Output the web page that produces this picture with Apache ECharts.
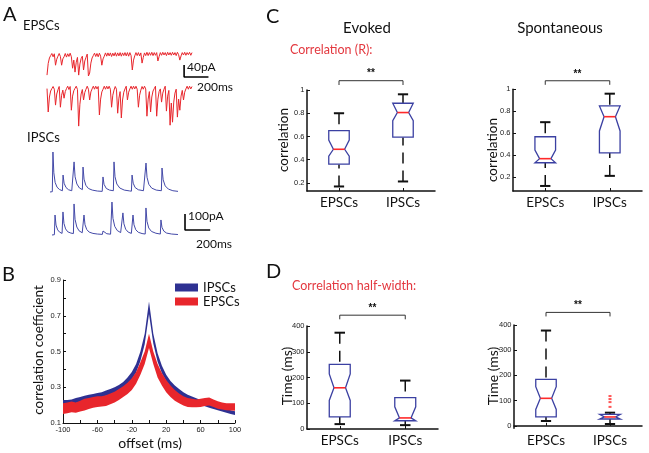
<!DOCTYPE html>
<html><head><meta charset="utf-8">
<script src="https://cdn.jsdelivr.net/npm/echarts@6/dist/echarts.min.js"></script>
<style>html,body{margin:0;padding:0;background:#fff}#c{width:649px;height:453px}</style>
</head><body><div id="c"></div>
<script>
// ---------- Panel A: example traces ----------
const EPSC_DT = 10; // ms per sample
const epscTrace1 = [-67,-28,-10,-2,5,-6,4,-34,-14,-4,5,-5,-34,-13,-6,5,-7,4,-5,6,-6,-44,-17,-57,-24,-8,-67,-30,-12,-4,-50,-20,-8,3,-70,-60,-27,-10,-2,6,-5,5,-6,6,-4,-34,-13,-4,7,-4,7,-3,7,-5,6,-3,8,-4,7,-3,8,-4,7,-2,8,-3,8,-4,8,-2,-50,-17,-3,8,-2,8,-3,7,-27,-8,7,-2,9,-2,8,-1,9,-2,8,-1,8,-20,-5,8,-1,9,0,8,-2,9,0,8,-1,9,0,8,-2,9,1,-17,-3,8,0,9,-1,8,1,9,-1,8];
const epscTrace2 = [-2,-80,-30,-10,-2,5,-4,-57,-20,-6,5,-64,-24,-7,-34,-12,-2,6,-5,5,-74,-27,-9,-1,6,-5,-127,-54,-20,-5,-40,-15,-4,6,-4,-40,-13,-3,6,-4,6,-3,5,-90,-37,-13,-4,6,-4,6,-3,6,-4,-64,-24,-7,5,-4,-84,-34,-12,-100,-40,-14,-3,6,-40,-14,-3,6,-4,6,-3,6,-4,-64,-24,-7,5,-4,6,-3,-94,-37,-12,-80,-30,-10,-2,6,-94,-37,-12,-3,-47,-17,-4,6,-77,-27,-8,-124,-50,-114,-47,-17,-4,-97,-37,-74,-27,-8,-40,-14,-3,6,-4,6,-3,5];
// [time ms, current pA]
const ipscTrace1 = [[0,0],[18,2],[23,250],[30,120],[40,60],[55,30],[75,15],[97,8],[102,106],[110,55],[125,28],[145,14],[170,8],[183,6],[188,188],[196,95],[210,50],[230,25],[253,15],[258,156],[266,80],[280,42],[300,22],[330,12],[370,6],[408,4],[414,94],[422,48],[440,22],[465,12],[495,8],[500,188],[508,95],[522,50],[545,25],[580,12],[620,7],[636,5],[641,106],[650,55],[665,28],[690,14],[730,8],[745,6],[750,181],[758,92],[772,48],[795,24],[830,12],[870,8],[875,150],[884,76],[900,38],[925,18],[960,8],[1000,4]];
const ipscTrace2 = [[0,0],[19,2],[24,125],[32,62],[45,32],[60,18],[80,10],[87,144],[95,72],[108,38],[125,20],[150,12],[170,9],[175,194],[183,98],[197,50],[215,26],[240,14],[249,10],[254,125],[262,64],[276,34],[295,18],[325,10],[360,6],[400,4],[405,25],[415,14],[435,8],[465,5],[471,4],[476,206],[484,104],[498,54],[518,28],[545,15],[558,11],[563,138],[571,70],[585,36],[605,18],[630,10],[638,8],[643,125],[651,64],[665,33],[685,17],[715,9],[740,6],[746,169],[754,86],[768,44],[790,22],[825,11],[860,6],[865,94],[873,48],[888,24],[910,12],[950,6],[1000,3]];
const epscScaleBar = {pA: 40, ms: 200};
const ipscScaleBar = {pA: 100, ms: 200};

// ---------- Panel B: cross-correlation bands ----------
const offsets = [-100,-95,-90,-85,-80,-75,-70,-65,-60,-55,-50,-45,-40,-35,-30,-25,-20,-15,-10,-5,0,5,10,15,20,25,30,35,40,45,50,55,60,65,70,75,80,85,90,95,100];
const ipscLow  = [.202,.203,.206,.212,.217,.222,.228,.234,.24,.244,.252,.26,.27,.282,.296,.315,.343,.383,.447,.54,.71,.545,.443,.378,.334,.3,.275,.257,.243,.231,.221,.211,.202,.194,.186,.179,.172,.165,.158,.151,.145];
const ipscHigh = [.228,.228,.232,.24,.245,.252,.258,.262,.268,.272,.282,.29,.30,.312,.33,.355,.385,.43,.50,.60,.78,.60,.49,.42,.37,.335,.31,.29,.272,.258,.248,.238,.228,.22,.212,.205,.198,.19,.182,.172,.166];
const epscLow  = [.15,.155,.16,.158,.165,.17,.178,.185,.19,.192,.195,.205,.215,.228,.245,.262,.285,.32,.37,.43,.52,.43,.355,.31,.272,.245,.225,.21,.198,.19,.188,.188,.19,.195,.198,.19,.18,.175,.172,.17,.168];
const epscHigh = [.21,.215,.22,.215,.225,.235,.24,.245,.25,.25,.255,.265,.275,.29,.305,.325,.35,.385,.44,.50,.60,.50,.43,.38,.34,.31,.285,.265,.25,.24,.235,.232,.235,.24,.242,.232,.222,.215,.21,.21,.21];

// ---------- Panels C, D: notched box plots ----------
const groups = ['EPSCs','IPSCs'];
// each: [whiskerLow, q1, notchLow, median, notchHigh, q3, whiskerHigh]
const evokedCorr = [[0.17,0.362,0.43,0.49,0.57,0.65,0.80],[0.213,0.594,0.737,0.806,0.886,0.886,0.963]];
const spontCorr  = [[0.118,0.33,0.33,0.367,0.446,0.567,0.70],[0.21,0.42,0.62,0.75,0.848,0.848,0.96]];
const evokedHalfWidth = [[19,47,111,160,214,251,374],[15,32,32,43,86,122,188]];
const spontHalfWidth  = [[19,35,65,109,155,184,378],[7,27,27,35,45,45,52]];
const spontHalfWidthOutliersIPSC = [118,106,94,75];

const RED = '#e8262c', BLUE = '#2e3192', BOXBLUE = '#3b40a2', TXTRED = '#e3383f';
const MY = 'Lato, "Open Sans", sans-serif';
const TICKF = '"Liberation Sans", Arial, sans-serif';
const TICKSIZE = 7.5;

function boxRender(params, api){
  const ci = api.value(0);
  const wl = api.value(1), q1 = api.value(2), nl = api.value(3), md = api.value(4), nh = api.value(5), q3 = api.value(6), wh = api.value(7);
  const x = api.coord([ci, md])[0];
  const Y = v => api.coord([ci, v])[1];
  const bw = api.size([1, 0])[0] * 0.16;
  const ins = bw * 0.45;
  const cap = bw * 0.5;
  const pts = [[x-bw,Y(q3)],[x+bw,Y(q3)],[x+bw,Y(nh)],[x+bw-ins,Y(md)],[x+bw,Y(nl)],[x+bw,Y(q1)],[x-bw,Y(q1)],[x-bw,Y(nl)],[x-bw+ins,Y(md)],[x-bw,Y(nh)]];
  return {type:'group', children:[
    {type:'line', shape:{x1:x,y1:Y(wh),x2:x,y2:Y(q3)}, style:{stroke:'#111', lineWidth:1.5, lineDash:[11,7]}},
    {type:'line', shape:{x1:x,y1:Y(wl),x2:x,y2:Y(q1)}, style:{stroke:'#111', lineWidth:1.5, lineDash:[11,7]}},
    {type:'line', shape:{x1:x-cap,y1:Y(wh),x2:x+cap,y2:Y(wh)}, style:{stroke:'#111', lineWidth:2}},
    {type:'line', shape:{x1:x-cap,y1:Y(wl),x2:x+cap,y2:Y(wl)}, style:{stroke:'#111', lineWidth:2}},
    {type:'polygon', shape:{points:pts}, style:{fill:'#fff', stroke:BOXBLUE, lineWidth:1.3}},
    {type:'line', shape:{x1:x-bw+ins,y1:Y(md),x2:x+bw-ins,y2:Y(md)}, style:{stroke:'#ff2a2a', lineWidth:1.6}}
  ]};
}
function bracketRender(params, api){
  const yv = api.value(0), drop = api.value(1);
  const a = api.coord([0, yv]), b = api.coord([1, yv]);
  const a2 = api.coord([0, yv - drop]), b2 = api.coord([1, yv - drop]);
  return {type:'group', children:[
    {type:'polyline', shape:{points:[a2, a, b, b2]}, style:{stroke:'#333', lineWidth:1, fill:null}},
    {type:'text', x:(a[0]+b[0])/2, y:a[1]-2, style:{text:'**', font:'bold 10px ' + TICKF, fill:'#111', textAlign:'center', textVerticalAlign:'bottom', align:'center', verticalAlign:'bottom'}}
  ]};
}
function boxData(stats){ return stats.map((s,i)=>[i].concat(s)); }

const grids = [
  {left:47, top:45, width:165, height:35},
  {left:47, top:80, width:165, height:50},
  {left:50, top:145, width:128, height:50},
  {left:52, top:195, width:165, height:45},
  {left:63, top:280, width:172, height:143},
  {left:307, top:90, width:128, height:101},
  {left:513, top:89.3, width:129, height:101.7},
  {left:307, top:326, width:131, height:103},
  {left:514, top:325, width:128, height:103.3}
];
const hidden = {show:false};
function valAxisHidden(gi, min, max){ return {type:'value', gridIndex:gi, min:min, max:max, axisLine:hidden, axisTick:hidden, axisLabel:hidden, splitLine:hidden}; }
function boxYAxis(gi, min, max, labels, fmt){
  return {type:'value', gridIndex:gi, min:min, max:max,
    axisLine:{show:true, lineStyle:{color:'#111', width:1.5}},
    axisTick:{show:true, inside:true, length:3, customValues:labels, lineStyle:{color:'#111'}},
    axisLabel:{show:true, customValues:labels, formatter:fmt, fontFamily:TICKF, fontSize:TICKSIZE, color:'#222', margin:2.5},
    splitLine:hidden};
}
function boxXAxis(gi){
  return {type:'category', gridIndex:gi, data:groups,
    axisLine:{show:true, lineStyle:{color:'#111', width:1.5}},
    axisTick:{show:true, inside:true, length:3, alignWithLabel:true, lineStyle:{color:'#111'}},
    axisLabel:{show:true, fontFamily:MY, fontSize:13.5, color:'#111', margin:5},
    splitLine:hidden};
}

const xAxes = [
  valAxisHidden(0, 0, 1354), valAxisHidden(1, 0, 1354), valAxisHidden(2, 0, 1000), valAxisHidden(3, 0, 1310),
  {type:'category', gridIndex:4, data:offsets.map(String), boundaryGap:false,
    axisLine:{show:true, lineStyle:{color:'#111', width:1}},
    axisTick:{show:true, inside:true, length:3, interval:(i)=> i % 4 === 0, lineStyle:{color:'#111'}},
    axisLabel:{show:true, interval:(i)=> i % 8 === 0, fontFamily:TICKF, fontSize:TICKSIZE, color:'#222', margin:3},
    splitLine:hidden},
  boxXAxis(5), boxXAxis(6), boxXAxis(7), boxXAxis(8)
];
const corrFmt = v => (Math.abs(v-1) < 1e-9 ? '1' : v.toFixed(1));
const intFmt = v => String(Math.round(v));
const yAxes = [
  valAxisHidden(0, -83.3, 33.3), valAxisHidden(1, -140, 26.7), valAxisHidden(2, -18.75, 293.75), valAxisHidden(3, -31.25, 250),
  {type:'value', gridIndex:4, min:0.1, max:0.9,
    axisLine:{show:true, lineStyle:{color:'#111', width:1}},
    axisTick:{show:true, inside:true, length:3, customValues:[0.1,0.2,0.3,0.4,0.5,0.6,0.7,0.8,0.9], lineStyle:{color:'#111'}},
    axisLabel:{show:true, customValues:[0.1,0.3,0.5,0.7,0.9], formatter:v=>v.toFixed(1), fontFamily:TICKF, fontSize:TICKSIZE, color:'#222', margin:2},
    splitLine:hidden},
  boxYAxis(5, 0.131, 1, [0.2,0.4,0.6,0.8,1], corrFmt),
  boxYAxis(6, 0.072, 1, [0.2,0.4,0.6,0.8,1], corrFmt),
  boxYAxis(7, 0, 400, [0,100,200,300,400], intFmt),
  boxYAxis(8, -10, 400, [0,100,200,300,400], intFmt)
];

function trace(gi, data, color, w){
  return {type:'line', xAxisIndex:gi, yAxisIndex:gi, data:data, symbol:'none', silent:true,
    lineStyle:{color:color, width:w}, animation:false};
}
function scaleBar(gi, t0, v0, bar){
  return {type:'line', xAxisIndex:gi, yAxisIndex:gi, symbol:'none', silent:true, animation:false,
    data:[[t0, v0 + bar.pA],[t0, v0],[t0 + bar.ms, v0]], lineStyle:{color:'#000', width:1.6}};
}

const series = [
  trace(0, epscTrace1.map((v,i)=>[i*EPSC_DT, v]), RED, 1),
  trace(1, epscTrace2.map((v,i)=>[i*EPSC_DT, v]), RED, 1),
  trace(2, ipscTrace1, '#4349a8', 1),
  trace(3, ipscTrace2, '#4349a8', 1),
  scaleBar(0, 1125, -73.3, epscScaleBar),
  scaleBar(3, 1056, 31.25, ipscScaleBar),
  // panel B bands
  {type:'line', name:'ipscBase', xAxisIndex:4, yAxisIndex:4, stack:'ipsc', data:ipscLow, symbol:'none', silent:true, lineStyle:{width:0, opacity:0}, animation:false},
  {type:'line', name:'IPSCs', xAxisIndex:4, yAxisIndex:4, stack:'ipsc', data:ipscHigh.map((h,i)=>+(h-ipscLow[i]).toFixed(4)), symbol:'none', silent:true, color:BLUE, itemStyle:{color:BLUE}, lineStyle:{width:0, opacity:0}, areaStyle:{color:BLUE, opacity:1}, animation:false},
  {type:'line', name:'epscBase', xAxisIndex:4, yAxisIndex:4, stack:'epsc', data:epscLow, symbol:'none', silent:true, lineStyle:{width:0, opacity:0}, animation:false},
  {type:'line', name:'EPSCs', xAxisIndex:4, yAxisIndex:4, stack:'epsc', data:epscHigh.map((h,i)=>+(h-epscLow[i]).toFixed(4)), symbol:'none', silent:true, color:RED, itemStyle:{color:RED}, lineStyle:{width:0, opacity:0}, areaStyle:{color:RED, opacity:1}, animation:false},
  // boxes
  {type:'custom', xAxisIndex:5, yAxisIndex:5, renderItem:boxRender, data:boxData(evokedCorr), encode:{x:0, y:[1,2,3,4,5,6,7]}, clip:false, animation:false, silent:true},
  {type:'custom', xAxisIndex:6, yAxisIndex:6, renderItem:boxRender, data:boxData(spontCorr), encode:{x:0, y:[1,2,3,4,5,6,7]}, clip:false, animation:false, silent:true},
  {type:'custom', xAxisIndex:7, yAxisIndex:7, renderItem:boxRender, data:boxData(evokedHalfWidth), encode:{x:0, y:[1,2,3,4,5,6,7]}, clip:false, animation:false, silent:true},
  {type:'custom', xAxisIndex:8, yAxisIndex:8, renderItem:boxRender, data:boxData(spontHalfWidth), encode:{x:0, y:[1,2,3,4,5,6,7]}, clip:false, animation:false, silent:true},
  {type:'scatter', xAxisIndex:8, yAxisIndex:8, data:spontHalfWidthOutliersIPSC.map(v=>[1, v]), symbol:'rect', symbolSize:[3,2], itemStyle:{color:'#ff2a2a'}, silent:true, animation:false},
  // significance brackets
  {type:'custom', xAxisIndex:5, yAxisIndex:5, renderItem:bracketRender, data:[[1.08, 0.037]], clip:false, animation:false, silent:true},
  {type:'custom', xAxisIndex:6, yAxisIndex:6, renderItem:bracketRender, data:[[1.078, 0.037]], clip:false, animation:false, silent:true},
  {type:'custom', xAxisIndex:7, yAxisIndex:7, renderItem:bracketRender, data:[[442, 16]], clip:false, animation:false, silent:true},
  {type:'custom', xAxisIndex:8, yAxisIndex:8, renderItem:bracketRender, data:[[450, 16]], clip:false, animation:false, silent:true}
];

function txt(s, x, y, size, opts){
  opts = opts || {};
  return {type:'text', x:x, y:y, rotation:opts.rot || 0, silent:true,
    style:{text:s, font:(opts.weight||'normal') + ' ' + size + 'px ' + (opts.family||MY), fill:opts.color||'#111',
      textAlign:opts.align||'left', textVerticalAlign:'middle', align:opts.align||'left', verticalAlign:'middle'}};
}
const R90 = Math.PI/2;
const graphics = [
  txt('A', 3, 15, 20), txt('EPSCs', 23, 26, 13), txt('IPSCs', 27, 138, 13),
  txt('40pA', 187, 67, 12), txt('200ms', 197, 87, 12),
  txt('100pA', 188, 216, 12), txt('200ms', 196, 244, 12),
  txt('B', 2, 275, 20),
  txt('correlation coefficient', 39, 350, 13.5, {rot:R90, align:'center'}),
  txt('offset (ms)', 150, 443, 14, {align:'center'}),
  txt('C', 266, 17, 20), txt('D', 266, 272, 20),
  txt('Evoked', 367, 28, 15, {align:'center'}), txt('Spontaneous', 560, 28, 15, {align:'center'}),
  txt('Correlation (R):', 290, 50, 12.5, {color:TXTRED}),
  txt('Correlation half-width:', 292, 286, 12.5, {color:TXTRED}),
  txt('correlation', 284, 140, 13.5, {rot:R90, align:'center'}),
  txt('correlation', 493, 150, 13.5, {rot:R90, align:'center'}),
  txt('Time (ms)', 287, 376, 14, {rot:R90, align:'center'}),
  txt('Time (ms)', 493, 376, 14, {rot:R90, align:'center'})
];

const chart = echarts.init(document.getElementById('c'), null, {renderer:'canvas'});
chart.setOption({
  backgroundColor:'#fff', animation:false,
  grid:grids, xAxis:xAxes, yAxis:yAxes, series:series,
  legend:{data:[{name:'IPSCs', icon:'rect', itemStyle:{color:BLUE}},{name:'EPSCs', icon:'rect', itemStyle:{color:RED}}],
    left:170, top:276, orient:'vertical', itemWidth:23, itemHeight:8, itemGap:1, selectedMode:false,
    textStyle:{fontFamily:MY, fontSize:13, color:'#111', lineHeight:9}},
  graphic:graphics
});
</script></body></html>
